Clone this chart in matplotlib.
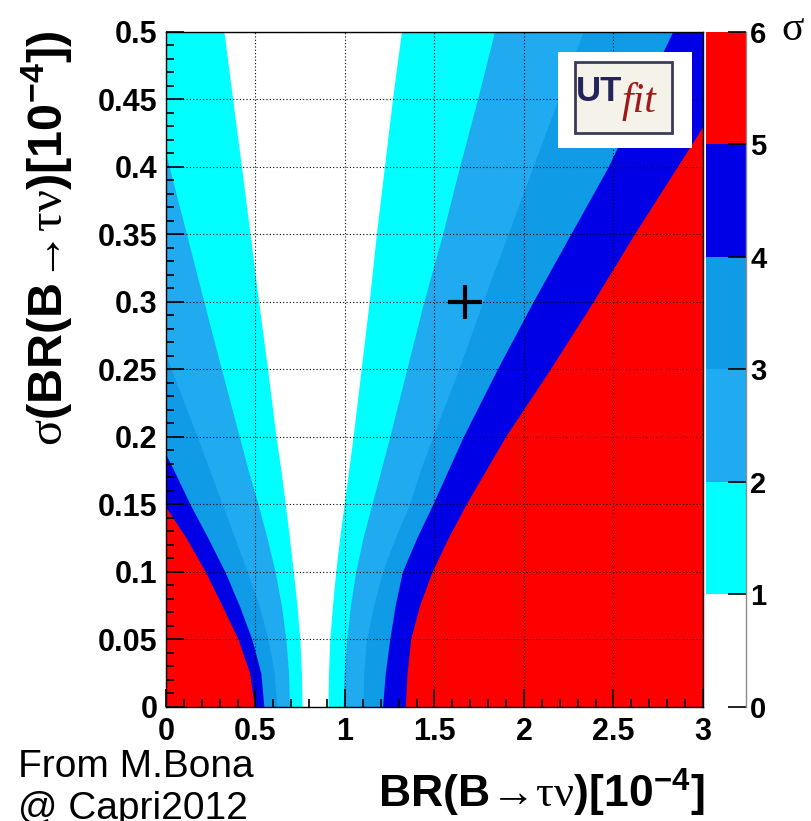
import numpy as np
import matplotlib
matplotlib.use('Agg')
import matplotlib.pyplot as plt
from matplotlib.colors import ListedColormap, BoundaryNorm
from matplotlib.cm import ScalarMappable
from matplotlib.patches import Rectangle
from matplotlib.ticker import MultipleLocator

plt.rcParams['font.family'] = ['Liberation Sans', 'DejaVu Sans']
plt.rcParams['mathtext.fontset'] = 'custom'
plt.rcParams['mathtext.rm'] = 'Liberation Serif'
plt.rcParams['mathtext.bf'] = 'Liberation Sans:bold'
plt.rcParams['mathtext.it'] = 'Liberation Serif:italic'

ys = [0, 0.025, 0.05, 0.075, 0.1, 0.125, 0.15, 0.175, 0.2, 0.25, 0.3, 0.35, 0.4, 0.45, 0.5]

# left / right edge (BR) of the n-sigma contours
left_1 = [0.76, 0.757, 0.748, 0.732, 0.712, 0.69, 0.667, 0.643, 0.615, 0.568, 0.518, 0.47, 0.422, 0.373, 0.324]
left_2 = [0.69, 0.685, 0.67, 0.645, 0.61, 0.565, 0.515, 0.46, 0.41, 0.31, 0.212, 0.115, 0.018, -0.08, -0.18]
left_3 = [0.62, 0.605, 0.57, 0.52, 0.455, 0.385, 0.315, 0.245, 0.175, 0.03, -0.11, -0.26, -0.41, -0.56, -0.71]
left_4 = [0.547, 0.53, 0.48, 0.41, 0.33, 0.235, 0.135, 0.045, -0.05, -0.25, -0.45, -0.65, -0.85, -1.05, -1.25]
left_5 = [0.497, 0.47, 0.405, 0.315, 0.222, 0.115, -0.01, -0.11, -0.23, -0.47, -0.71, -0.95, -1.2, -1.45, -1.7]

right_1 = [0.905, 0.908, 0.915, 0.93, 0.948, 0.97, 0.995, 1.02, 1.045, 1.09, 1.135, 1.175, 1.22, 1.265, 1.315]
right_2 = [0.99, 0.995, 1.01, 1.03, 1.06, 1.10, 1.15, 1.20, 1.25, 1.345, 1.44, 1.545, 1.64, 1.74, 1.835]
right_3 = [1.10, 1.105, 1.12, 1.16, 1.21, 1.28, 1.36, 1.42, 1.49, 1.635, 1.77, 1.91, 2.05, 2.19, 2.33]
right_4 = [1.21, 1.225, 1.25, 1.28, 1.32, 1.40, 1.49, 1.575, 1.66, 1.85, 2.05, 2.26, 2.47, 2.65, 2.83]
right_5 = [1.34, 1.35, 1.37, 1.42, 1.49, 1.58, 1.68, 1.79, 1.90, 2.15, 2.39, 2.62, 2.86, 3.1, 3.35]

lefts = [left_1, left_2, left_3, left_4, left_5]
rights = [right_1, right_2, right_3, right_4, right_5]

# colour of each band 0-1, 1-2, ... 5-6 sigma
levels = [0, 1, 2, 3, 4, 5, 6]
band_colors = ['#ffffff', '#00ffff', '#20aaf0', '#0f9be6', '#0000e6', '#ff0000']

# measured value
meas_br = [1.67]
meas_sigma = [0.30]

fig = plt.figure(figsize=(8.12, 8.21), dpi=100)
ax = fig.add_axes([0.2044, 0.1389, 0.6613, 0.8222])
cax = fig.add_axes([0.8695, 0.1389, 0.0493, 0.8222])

# red everywhere above 5 sigma, then paint the inner contours on top
ax.set_facecolor(band_colors[5])
for n in range(5, 0, -1):
    ax.fill_betweenx(ys, lefts[n - 1], rights[n - 1], color=band_colors[n - 1], lw=0)

ax.plot(meas_br, meas_sigma, '+', color='k', ms=24, mew=3)

ax.set_xlim(0, 3)
ax.set_ylim(0, 0.5)
ax.xaxis.set_minor_locator(MultipleLocator(0.1))
ax.yaxis.set_minor_locator(MultipleLocator(0.01))
ax.set_xticks([0, 0.5, 1, 1.5, 2, 2.5, 3])
ax.set_xticklabels(['0', '0.5', '1', '1.5', '2', '2.5', '3'])
ax.set_yticks([0, 0.05, 0.1, 0.15, 0.2, 0.25, 0.3, 0.35, 0.4, 0.45, 0.5])
ax.set_yticklabels(['0', '0.05', '0.1', '0.15', '0.2', '0.25', '0.3', '0.35', '0.4', '0.45', '0.5'])
ax.tick_params(which='both', direction='in', color='k', width=1.2, labelsize=22)
ax.tick_params(which='major', length=13)
ax.tick_params(which='minor', length=6)
ax.tick_params(axis='x', pad=7)
ax.tick_params(axis='y', pad=6)
for lab in ax.get_xticklabels() + ax.get_yticklabels():
    lab.set_fontweight('bold')
ax.set_axisbelow(False)
ax.grid(True, which='major', color='k', linestyle=(0, (1, 2)), lw=0.8)
for sp in ax.spines.values():
    sp.set_linewidth(1.0)

# UTfit logo box
ax.add_patch(Rectangle((0.73, 0.828), 0.2495, 0.142, transform=ax.transAxes,
                       facecolor='white', edgecolor='none', zorder=5))
ax.add_patch(Rectangle((0.7616, 0.85), 0.1806, 0.105, transform=ax.transAxes,
                       facecolor='#f5f2ea', edgecolor='#3c3c5a', lw=2, zorder=6))
ax.text(0.7635, 0.898, 'UT', transform=ax.transAxes, fontsize=25, fontweight='bold',
        color='#24245a', zorder=7, va='baseline')
ax.text(0.849, 0.881, 'fit', transform=ax.transAxes, fontsize=30, style='italic',
        family='Liberation Serif', color='#a01818', zorder=7, va='baseline')

# colour scale
sm = ScalarMappable(norm=BoundaryNorm(levels, 6), cmap=ListedColormap(band_colors))
cb = fig.colorbar(sm, cax=cax, ticks=levels)
cb.outline.set_visible(False)
cax.spines['right'].set_visible(True)
cax.spines['right'].set_color('0.55')
cax.spines['right'].set_linewidth(1.0)
cax.tick_params(direction='in', length=13, width=1.2, color='k', labelsize=21, pad=3)
cax.set_yticklabels([str(v) for v in levels])
for lab in cax.get_yticklabels():
    lab.set_fontweight('bold')
fig.text(781 / 812, 1 - 40 / 821, '\u03c3', family='Liberation Serif', fontsize=30,
         va='baseline', ha='left')

# axis titles (ROOT style, aligned to the end of the axis)
fig.text(705 / 812, 1 - 808 / 821,
         r'$\mathbf{BR(B}\mathrm{\!\rightarrow\!\tau\nu}\mathbf{)[10^{-4}]}$',
         fontsize=32, ha='right', va='baseline')
fig.text(63 / 812, 1 - 30 / 821,
         r'$\mathrm{\sigma}\mathbf{(BR(B}\mathrm{\!\rightarrow\!\tau\nu}\mathbf{)[10^{-4}])}$',
         fontsize=35, rotation=90, rotation_mode='anchor', ha='right', va='baseline')

fig.text(18 / 812, 1 - 749 / 821, 'From M.Bona\n@ Capri2012', fontsize=28,
         ha='left', va='top')

fig.savefig('out.png', dpi=100)
